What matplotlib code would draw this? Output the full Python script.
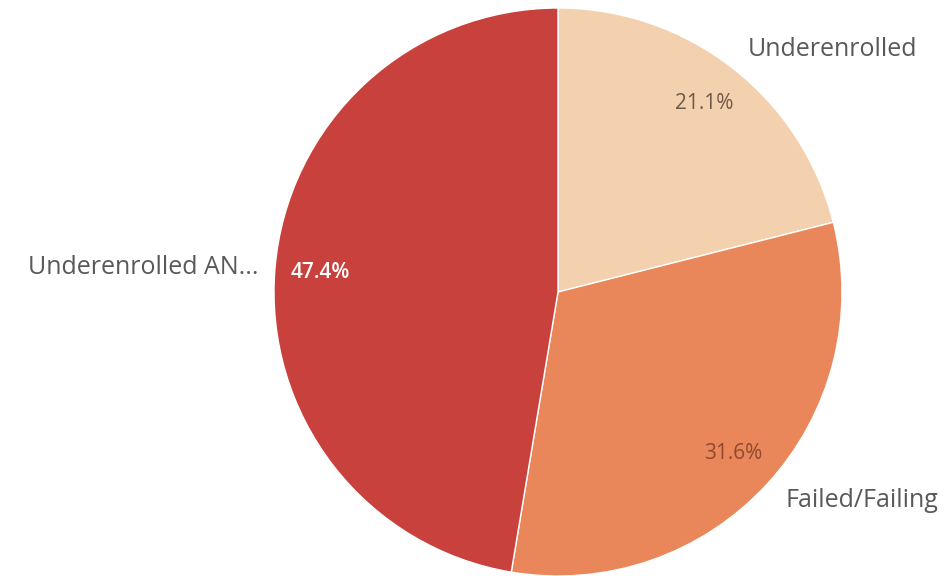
import matplotlib
matplotlib.use('Agg')
from matplotlib import pyplot as plt

labels = ['Underenrolled', 'Failed/Failing', 'Underenrolled AN...']
values = [4, 6, 9]
colors = ['#f3d1ae', '#e9865a', '#c9413c']
pct_colors = ['#6e5a48', '#8e4a30', '#ffffff']
# label anchors (in pie radius units) and alignment
label_pos = [(0.669, 0.855, 'left'), (0.80, -0.735, 'left'), (-1.056, 0.085, 'right')]

plt.rcParams['font.family'] = ['Open Sans', 'DejaVu Sans']

fig = plt.figure(figsize=(9.53, 5.76), dpi=100)
cx, cy, r = 558, 292, 284
ax = fig.add_axes([(cx - r) / 953, (576 - cy - r) / 576, 2 * r / 953, 2 * r / 576])

wedges, texts, autotexts = ax.pie(values, colors=colors, startangle=90, counterclock=False,
                                  autopct='%1.1f%%', pctdistance=0.84, radius=1,
                                  wedgeprops=dict(edgecolor='white', linewidth=1))
for t, c in zip(autotexts, pct_colors):
    t.set_color(c)
    t.set_fontsize(15)
autotexts[2].set_fontweight('semibold')

for lab, (x, y, ha) in zip(labels, label_pos):
    ax.text(x, y, lab, ha=ha, va='center', fontsize=18, color='#595959')

ax.set_xlim(-1, 1)
ax.set_ylim(-1, 1)
ax.set_aspect('equal')
ax.axis('off')

fig.savefig('out.png', dpi=100)
